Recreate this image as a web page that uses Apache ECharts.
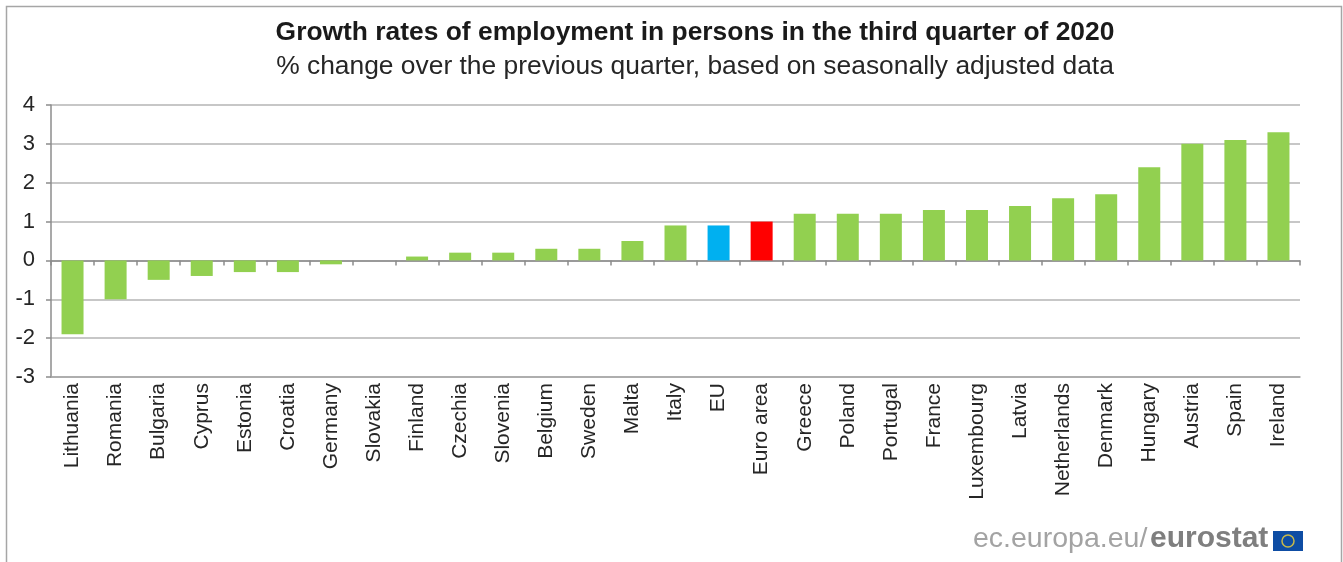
<!DOCTYPE html>
<html><head><meta charset="utf-8">
<style>html,body{margin:0;padding:0;background:#fff;overflow:hidden}#c{width:1343px;height:562px}</style>
<script src="https://cdn.jsdelivr.net/npm/echarts@6/dist/echarts.min.js"></script>
</head><body><div id="c"></div>
<script>
const categories=["Lithuania","Romania","Bulgaria","Cyprus","Estonia","Croatia","Germany","Slovakia","Finland","Czechia","Slovenia","Belgium","Sweden","Malta","Italy","EU","Euro area","Greece","Poland","Portugal","France","Luxembourg","Latvia","Netherlands","Denmark","Hungary","Austria","Spain","Ireland"];
const values=[-1.9,-1.0,-0.5,-0.4,-0.3,-0.3,-0.1,0,0.1,0.2,0.2,0.3,0.3,0.5,0.9,0.9,1.0,1.2,1.2,1.2,1.3,1.3,1.4,1.6,1.7,2.4,3.0,3.1,3.3];
const highlights={"EU":"#00b0f0","Euro area":"#ff0000"};
const barColor="#92d050";
const font="Liberation Sans";
const chart=echarts.init(document.getElementById('c'),null,{renderer:'canvas'});
chart.setOption({
 animation:false,
 grid:{left:51,right:43,top:105,bottom:185,containLabel:false},
 title:[
  {text:"Growth rates of employment in persons in the third quarter of 2020",left:695,top:15,textAlign:'center',textStyle:{fontFamily:font,fontWeight:'bold',fontSize:26.4,color:'#1a1a1a'}},
  {text:"% change over the previous quarter, based on seasonally adjusted data",left:695,top:49,textAlign:'center',textStyle:{fontFamily:font,fontWeight:'normal',fontSize:26.4,color:'#262626'}}
 ],
 xAxis:[
  {type:'category',data:categories,position:'bottom',axisLine:{onZero:false,lineStyle:{color:'#a6a6a6',width:1.5}},axisTick:{show:false},
   axisLabel:{rotate:90,interval:0,margin:6,padding:[4,0,0,0],fontFamily:font,fontSize:21,color:'#262626'}},
  {type:'category',data:categories,position:'bottom',axisLine:{onZero:true,lineStyle:{color:'#8c8c8c',width:1.5}},axisTick:{show:true,interval:0,length:5,alignWithLabel:false,lineStyle:{color:'#8c8c8c',width:1.5}},axisLabel:{show:false}}
 ],
 yAxis:{type:'value',min:-3,max:4,interval:1,axisLine:{show:true,onZero:false,lineStyle:{color:'#8c8c8c',width:1.5}},axisTick:{show:true,length:5,lineStyle:{color:'#8c8c8c',width:1.5}},
  splitLine:{lineStyle:{color:'#b5b5b5',width:1.5}},axisLabel:{margin:16,padding:[3,0,0,0],fontFamily:font,fontSize:22,color:'#262626'}},
 series:[{type:'bar',barWidth:22,xAxisIndex:0,data:categories.map((c,i)=>({value:values[i],itemStyle:{color:highlights[c]||barColor}})),z:3}],
 graphic:[
  {type:'rect',silent:true,shape:{x:6.5,y:6.5,width:1335,height:600},style:{fill:'none',stroke:'#a6a6a6',lineWidth:1.5}},
  {type:'text',left:973,top:525,style:{text:'ec.europa.eu/',fontFamily:font,fontSize:28.5,fill:'#a3a3a3'}},
  {type:'text',left:1150,top:524,style:{text:'eurostat',fontFamily:font,fontWeight:'bold',fontSize:30,fill:'#7f7f7f'}},
  {type:'rect',shape:{x:1273,y:531,width:30,height:20},style:{fill:'#0e4da4'}},
  {type:'circle',shape:{cx:1288,cy:541,r:6},style:{fill:'none',stroke:'#c8b94a',lineWidth:1.5}}
 ]
});
chart.setOption({title:[{left:690},{left:690}]});
</script></body></html>
